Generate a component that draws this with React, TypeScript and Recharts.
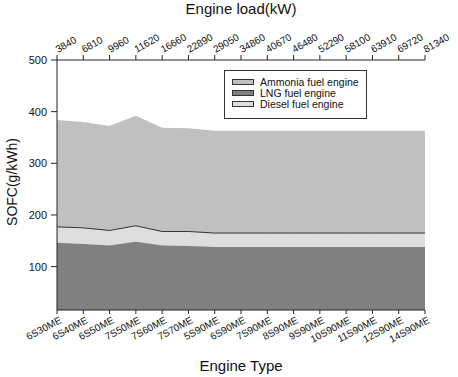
import React from "react";
import { AreaChart, Area, XAxis, YAxis, Legend, Label } from "recharts";

const engineTypes = ["6S30ME", "6S40ME", "6S50ME", "7S50ME", "7S60ME", "7S70ME", "5S90ME", "6S90ME", "7S90ME", "8S90ME", "9S90ME", "10S90ME", "11S90ME", "12S90ME", "14S90ME"];
const engineLoads = ["3840", "6810", "9960", "11620", "16660", "22890", "29050", "34860", "40670", "46480", "52290", "58100", "63910", "69720", "81340"];
const ammoniaSofc = [384, 380, 372, 392, 369, 368, 363, 363, 363, 363, 363, 363, 363, 363, 363];
const dieselSofc = [177, 175, 170, 179, 168, 168, 165, 165, 165, 165, 165, 165, 165, 165, 165];
const lngSofc = [146, 144, 141, 148, 141, 140, 138, 138, 138, 138, 138, 138, 138, 138, 138];
const yTicks = [100, 200, 300, 400, 500];

const legendOrder = ["Ammonia fuel engine", "LNG fuel engine", "Diesel fuel engine"];

const data = engineTypes.map((t, i) => ({
  type: t,
  load: engineLoads[i],
  ammonia: ammoniaSofc[i],
  diesel: dieselSofc[i],
  lng: lngSofc[i],
}));

const FONT = "'Liberation Sans', Arial, sans-serif";
const AXIS = "#222";

const BottomTick = (props: any) => {
  const { x, y, payload } = props;
  return (
    <g transform={`translate(${x + 2},${y})`}>
      <text x={0} y={0} dy="0.71em" textAnchor="end" transform="rotate(-28)" fontSize={10} fontFamily={FONT} fill="#111">
        {payload.value}
      </text>
    </g>
  );
};

const TopTick = (props: any) => {
  const { x, y, payload } = props;
  return (
    <g transform={`translate(${x + 1},${y})`}>
      <text x={0} y={0} textAnchor="start" transform="rotate(-30)" fontSize={10} fontFamily={FONT} fill="#111">
        {payload.value}
      </text>
    </g>
  );
};

const LegendContent = (props: any) => {
  const payload = [...(props.payload || [])].sort(
    (a: any, b: any) => legendOrder.indexOf(a.value) - legendOrder.indexOf(b.value)
  );
  return (
    <div
      style={{
        border: "1px solid #333",
        background: "#fff",
        boxSizing: "border-box",
        width: 143,
        height: 49,
        padding: "5px 0 0 7px",
        fontFamily: FONT,
        fontSize: 10.5,
        color: "#111",
      }}
    >
      {payload.map((p: any) => (
        <div key={p.value} style={{ display: "flex", alignItems: "center", height: 11.3 }}>
          <span
            style={{
              display: "inline-block",
              width: 22,
              height: 6,
              boxSizing: "border-box",
              border: "1px solid #333",
              background: p.payload?.fill || p.color,
              marginRight: 6,
            }}
          />
          <span>{p.value}</span>
        </div>
      ))}
    </div>
  );
};

const YLabel = (props: any) => {
  const vb = props.viewBox || {};
  const cx = 17;
  const cy = vb.y + vb.height / 2 - 3;
  return (
    <text x={cx} y={cy} transform={`rotate(-90, ${cx}, ${cy})`} textAnchor="middle" fontSize={14} fontFamily={FONT} fill="#111">
      SOFC(g/kWh)
    </text>
  );
};

export default function App() {
  return (
    <div style={{ position: "absolute", left: 0, top: 0 }}>
      <AreaChart width={458} height={377} data={data} margin={{ top: 0, right: 33, bottom: 0, left: 0 }}>
        <XAxis
          xAxisId="top"
          orientation="top"
          dataKey="load"
          height={60}
          interval={0}
          tickSize={5}
          tickMargin={2}
          tick={<TopTick />}
          stroke={AXIS}
          tickLine={{ stroke: AXIS }}
          axisLine={{ stroke: AXIS }}
        >
          <Label value="Engine load(kW)" position="insideTop" offset={3} style={{ fontSize: 15, fontFamily: FONT, fill: "#111" }} />
        </XAxis>
        <XAxis
          xAxisId="bottom"
          orientation="bottom"
          dataKey="type"
          height={67}
          interval={0}
          tickSize={4}
          tickMargin={2}
          tick={<BottomTick />}
          stroke={AXIS}
          tickLine={{ stroke: AXIS }}
          axisLine={{ stroke: AXIS }}
        >
          <Label value="Engine Type" position="insideBottom" offset={6} style={{ fontSize: 15, fontFamily: FONT, fill: "#111" }} />
        </XAxis>
        <YAxis
          yAxisId="left"
          width={57}
          domain={[16, 500]}
          ticks={yTicks}
          allowDataOverflow
          tickSize={6}
          tickMargin={4}
          tick={{ fontSize: 11, fontFamily: FONT, fill: "#111" }}
          stroke={AXIS}
          tickLine={{ stroke: AXIS }}
          axisLine={{ stroke: AXIS }}
        >
          <Label content={<YLabel />} />
        </YAxis>
        <YAxis yAxisId="right" orientation="right" width={0} tick={false} tickLine={false} axisLine={{ stroke: AXIS }} domain={[16, 500]} />
        <Legend
          layout="horizontal"
          verticalAlign="middle"
          align="center"
          content={<LegendContent />}
          wrapperStyle={{ position: "absolute", left: 224, top: 70, width: 143, height: 49 }}
        />
        <Area
          xAxisId="bottom"
          yAxisId="left"
          type="linear"
          dataKey="ammonia"
          name="Ammonia fuel engine"
          fill="#c0c0c0"
          fillOpacity={1}
          stroke="none"
          isAnimationActive={false}
        />
        <Area
          xAxisId="bottom"
          yAxisId="left"
          type="linear"
          dataKey="diesel"
          name="Diesel fuel engine"
          fill="#dedede"
          fillOpacity={1}
          stroke="#333"
          strokeWidth={1}
          isAnimationActive={false}
        />
        <Area
          xAxisId="bottom"
          yAxisId="left"
          type="linear"
          dataKey="lng"
          name="LNG fuel engine"
          fill="#808080"
          fillOpacity={1}
          stroke="none"
          isAnimationActive={false}
        />
      </AreaChart>
    </div>
  );
}
